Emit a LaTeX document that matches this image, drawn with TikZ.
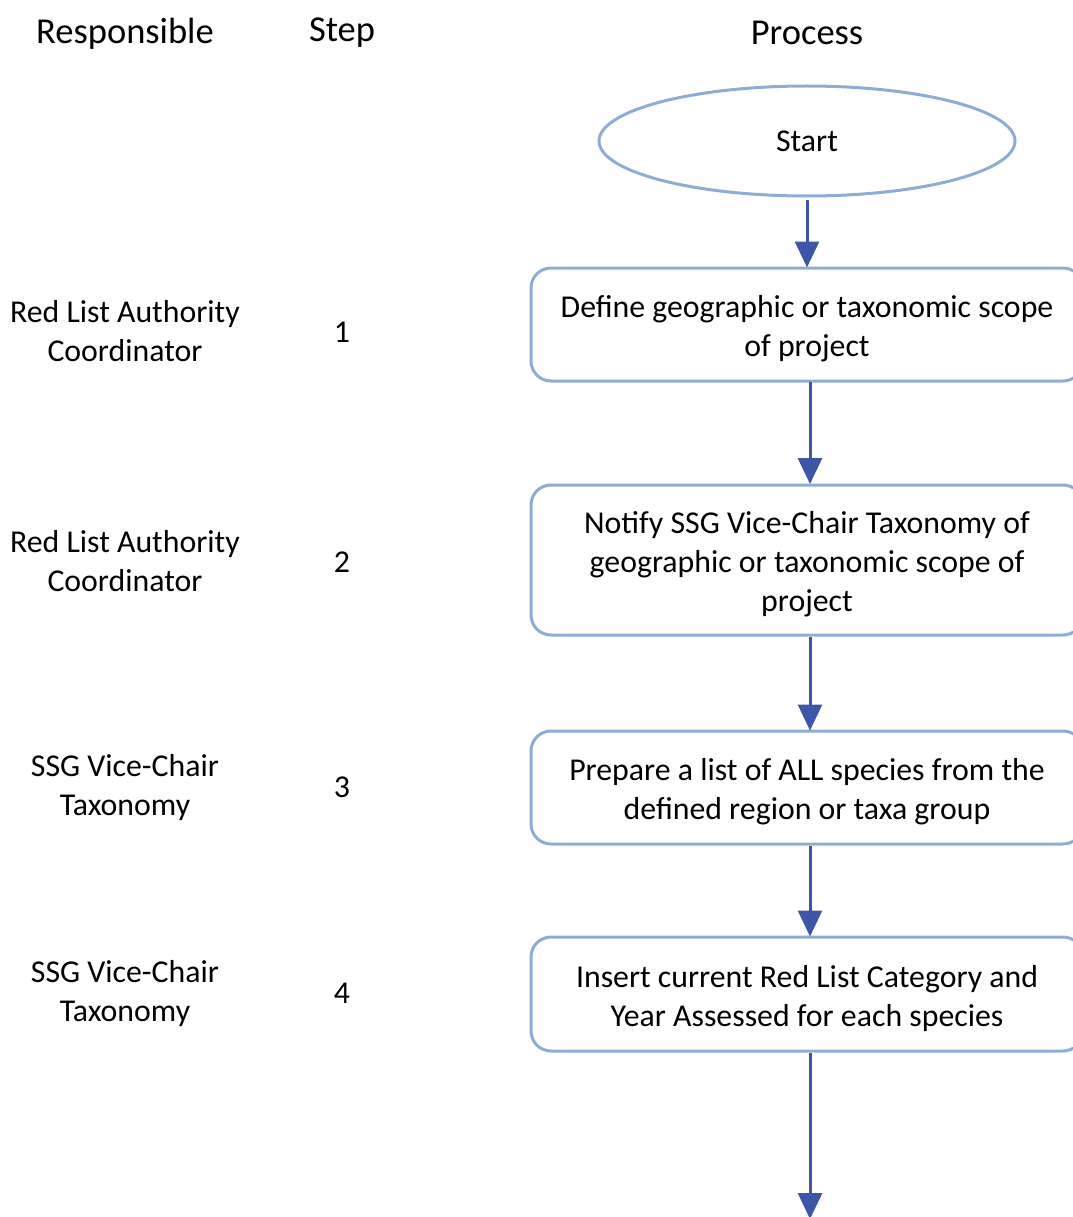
\documentclass[tikz,border=0pt]{standalone}
\usepackage{fontspec}
\setmainfont{Carlito}
\usetikzlibrary{arrows.meta,shapes.geometric}
\definecolor{boxline}{HTML}{8EADD5}
\definecolor{arrowc}{HTML}{3D56A8}
\newcommand{\boxtext}[1]{\raisebox{-5pt}[\height][\depth]{\begin{tabular}{@{}c@{}}#1\end{tabular}}}
\begin{document}
\begin{tikzpicture}[x=1pt,y=-1pt,
  hdr/.style={font={\fontsize{36.5}{40}\selectfont}, inner sep=0pt},
  lbl/.style={font={\fontsize{31.8}{39}\selectfont}, align=center, inner sep=0pt},
  procbox/.style={draw=boxline, line width=3pt, rounded corners=20pt, minimum width=552pt, inner sep=0pt, font={\fontsize{31.8}{39}\selectfont}},
  startnode/.style={ellipse, draw=boxline, line width=3pt, minimum width=416pt, minimum height=110pt, inner sep=0pt, font={\fontsize{31.8}{39}\selectfont}},
  flow/.style={draw=arrowc, line width=3pt, -{Triangle[width=24pt,length=26pt]}, shorten >=-1pt}
]
\useasboundingbox (0,0) rectangle (1072,1217);
% headers
\node[hdr] (hResp) at (125,34) {Responsible};
\node[hdr] (hStep) at (342,33) {Step};
\node[hdr] (hProc) at (807,33) {Process};
% process
\node[startnode] (start) at (807,141) {Start};
\node[procbox, minimum height=113pt] (b1) at (807,324.5) {\boxtext{Define geographic or taxonomic scope\\of project}};
\node[procbox, minimum height=150pt] (b2) at (807,560) {\boxtext{Notify SSG Vice-Chair Taxonomy of\\geographic or taxonomic scope of\\project}};
\node[procbox, minimum height=113pt] (b3) at (807,787.5) {\boxtext{Prepare a list of ALL species from the\\defined region or taxa group}};
\node[procbox, minimum height=114pt] (b4) at (807,994) {\boxtext{Insert current Red List Category and\\Year Assessed for each species}};
\coordinate (endpt) at (810,1218);
% responsible
\node[lbl] (r1) at (125,331.5) {Red List Authority\\Coordinator};
\node[lbl] (r2) at (125,561.5) {Red List Authority\\Coordinator};
\node[lbl] (r3) at (125,787.5) {SSG Vice-Chair\\Taxonomy};
\node[lbl] (r4) at (125,993.5) {SSG Vice-Chair\\Taxonomy};
% steps
\node[lbl] (s1) at (342,332) {1};
\node[lbl] (s2) at (342,562) {2};
\node[lbl] (s3) at (342,787) {3};
\node[lbl] (s4) at (342,993) {4};
% arrows
\draw[flow] (start.south) ++(0,2) -- (b1.north);
\draw[flow] (810,382) -- (810,483);
\draw[flow] ([xshift=3pt]b2.south) -- ([xshift=3pt]b3.north);
\draw[flow] ([xshift=3pt]b3.south) -- ([xshift=3pt]b4.north);
\draw[flow] ([xshift=3pt]b4.south) -- (endpt);
\end{tikzpicture}
\end{document}
